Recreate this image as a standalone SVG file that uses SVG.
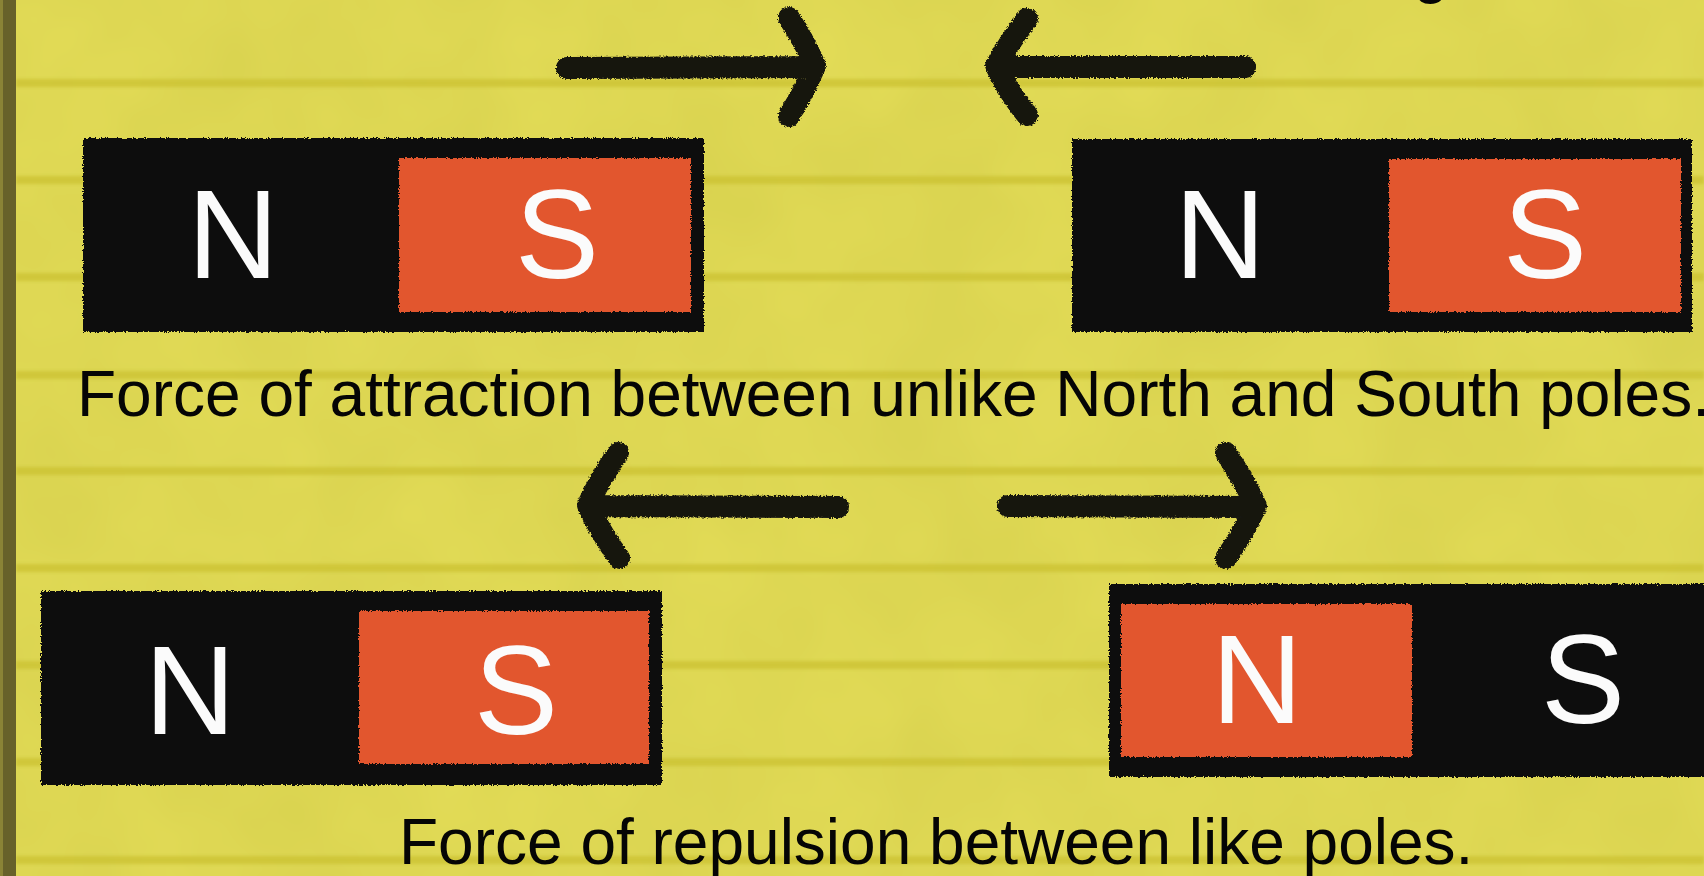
<svg xmlns="http://www.w3.org/2000/svg" width="1704" height="876" viewBox="0 0 1704 876">
  <defs>
    <filter id="paper" x="0" y="0" width="100%" height="100%">
      <feTurbulence type="fractalNoise" baseFrequency="0.008" numOctaves="3" seed="4" result="n"/>
      <feColorMatrix in="n" type="matrix" values="0 0 0 0 0.55  0 0 0 0 0.52  0 0 0 0 0.05  0 0 0 0.35 0"/>
    </filter>
    <filter id="rough" x="-5%" y="-20%" width="110%" height="140%">
      <feTurbulence type="fractalNoise" baseFrequency="0.6" numOctaves="2" seed="2" result="t"/>
      <feDisplacementMap in="SourceGraphic" in2="t" scale="4" xChannelSelector="R" yChannelSelector="G"/>
    </filter>
    <filter id="blurline" x="0" y="-100%" width="100%" height="300%">
      <feGaussianBlur stdDeviation="1.5"/>
    </filter>
  </defs>
  <style>
    .bg { fill: #e3dc57; }
    .rule { stroke: #cbc231; stroke-width: 8; opacity: 0.75; fill: none; }
    .body { fill: #0f0f0d; }
    .pole { fill: #e2572d; }
    .plabel { font-family: "Liberation Sans", Arial, sans-serif; font-size: 126px; fill: #fbfbfb; text-anchor: middle; }
    .caption { font-family: "Liberation Sans", Arial, sans-serif; font-size: 64px; fill: #050505; }
    .arrow { stroke: #121210; stroke-width: 22; fill: none; stroke-linecap: round; stroke-linejoin: round; }
  </style>

  <!-- paper -->
  <rect class="bg" x="0" y="0" width="1704" height="876"/>
  <rect x="0" y="0" width="1704" height="876" filter="url(#paper)"/>
  <g id="rules" filter="url(#blurline)">
    <line class="rule" x1="16" y1="83" x2="1704" y2="83"/>
    <line class="rule" x1="16" y1="180" x2="1704" y2="180"/>
    <line class="rule" x1="16" y1="277" x2="1704" y2="277"/>
    <line class="rule" x1="16" y1="375" x2="1704" y2="375"/>
    <line class="rule" x1="16" y1="471" x2="1704" y2="471"/>
    <line class="rule" x1="16" y1="568" x2="1704" y2="568"/>
    <line class="rule" x1="16" y1="665" x2="1704" y2="665"/>
    <line class="rule" x1="16" y1="762" x2="1704" y2="762"/>
    <line class="rule" x1="16" y1="860" x2="1704" y2="860"/>
  </g>
  <rect x="0" y="0" width="16" height="876" fill="#67612a"/>
  <rect x="0" y="0" width="3" height="876" fill="#8a8336"/>

  <!-- cut-off title fragment -->
  <text class="caption" x="1413" y="-9">g</text>

  <g id="magnet-top-left">
    <g filter="url(#rough)">
      <rect class="body" x="83" y="138" width="621" height="194"/>
      <rect class="pole" x="399" y="158" width="292" height="154"/>
    </g>
    <text class="plabel" x="233" y="278">N</text>
    <text class="plabel" x="557" y="278">S</text>
  </g>

  <g id="magnet-top-right">
    <g filter="url(#rough)">
      <rect class="body" x="1072" y="139" width="620" height="193"/>
      <rect class="pole" x="1389" y="159" width="292" height="153"/>
    </g>
    <text class="plabel" x="1220" y="278">N</text>
    <text class="plabel" x="1545" y="278">S</text>
  </g>

  <g id="magnet-bottom-left">
    <g filter="url(#rough)">
      <rect class="body" x="41" y="591" width="621" height="194"/>
      <rect class="pole" x="359" y="611" width="290" height="153"/>
    </g>
    <text class="plabel" x="190" y="734">N</text>
    <text class="plabel" x="516" y="734">S</text>
  </g>

  <g id="magnet-bottom-right">
    <g filter="url(#rough)">
      <rect class="body" x="1109" y="584" width="620" height="193"/>
      <rect class="pole" x="1121" y="604" width="291" height="153"/>
    </g>
    <text class="plabel" x="1257" y="723">N</text>
    <text class="plabel" x="1583" y="723">S</text>
  </g>

  <g id="connectors" filter="url(#rough)">
    <path class="arrow" d="M567 68 L812 67 M789 18 Q806 44 815 66 Q804 92 789 116"/>
    <path class="arrow" d="M1245 67 L998 67 M1027 19 Q1008 44 996 66 Q1008 92 1027 115"/>
    <path class="arrow" d="M838 507 L590 506 M618 453 Q599 480 588 505 Q600 532 619 558"/>
    <path class="arrow" d="M1008 506 L1253 507 M1226 453 Q1244 480 1256 506 Q1244 532 1226 558"/>
  </g>

  <g id="captions">
    <text class="caption" x="77" y="416">Force of attraction between unlike North and South poles.</text>
    <text class="caption" x="399" y="864">Force of repulsion between like poles.</text>
  </g>
</svg>
